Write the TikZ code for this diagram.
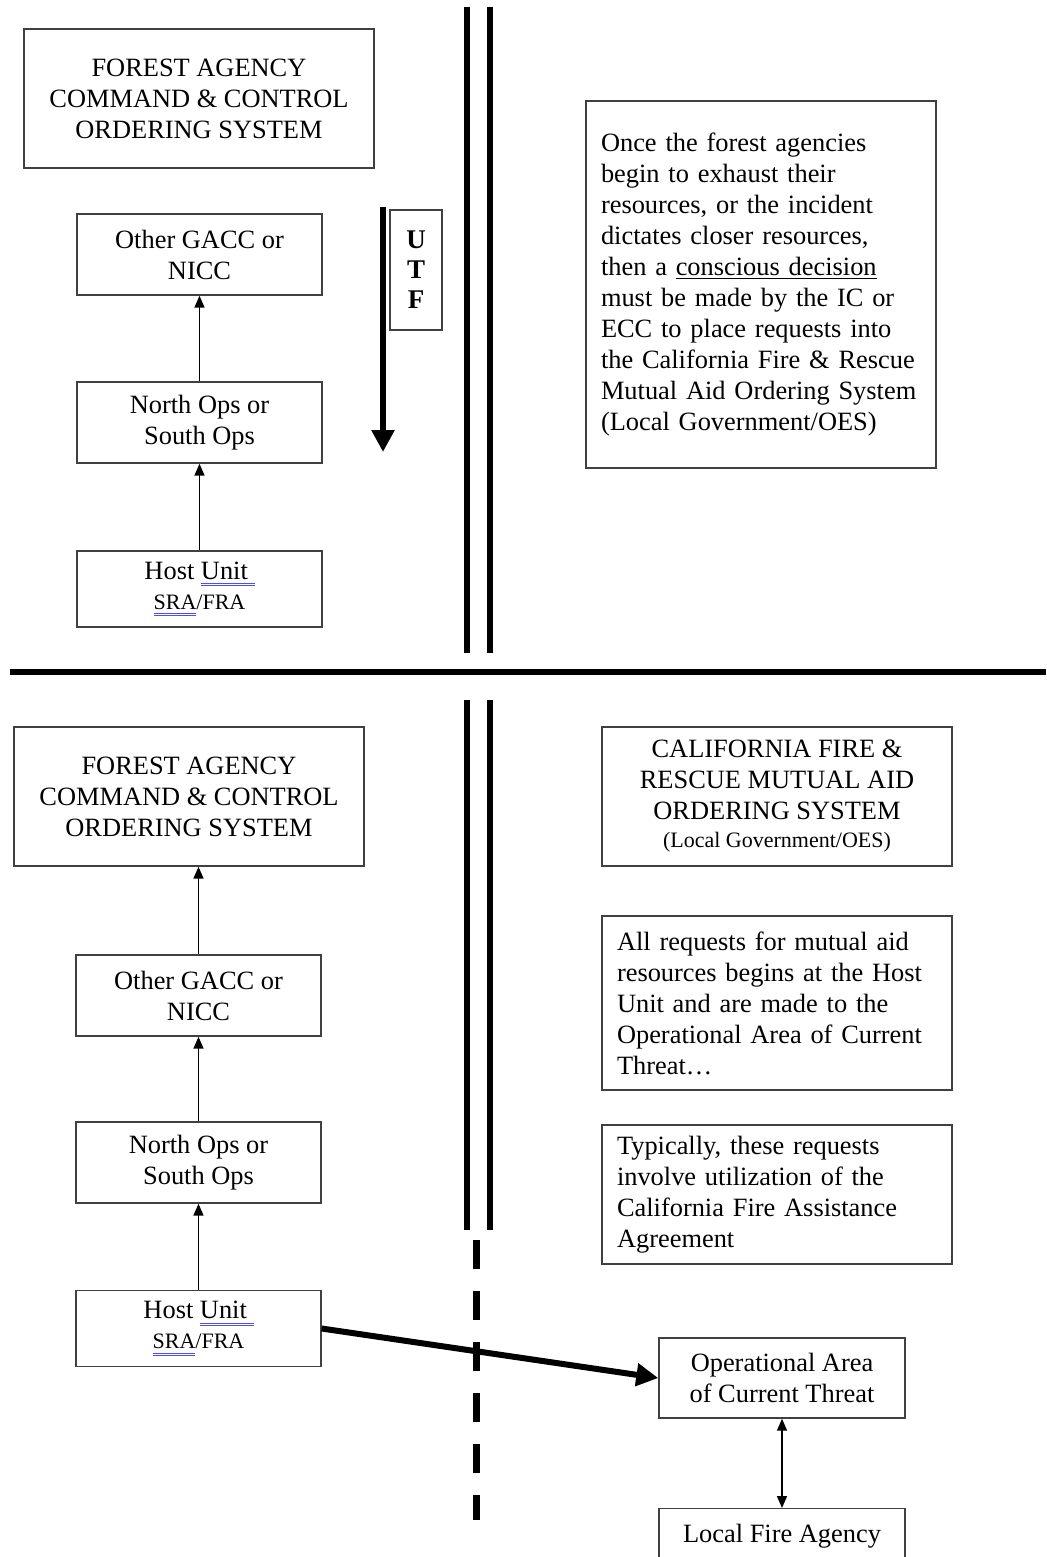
\documentclass[tikz,border=0pt]{standalone}
\usepackage{fontspec}
\setmainfont{Liberation Serif}
\usetikzlibrary{arrows.meta,positioning}

\newsavebox\markbox
\newcommand{\spellmark}[1]{\sbox\markbox{#1}%
  \rlap{\color{blue!70!white}\rule[-2.4pt]{\wd\markbox}{0.45pt}}%
  \rlap{\color{blue!70!white}\rule[-3.5pt]{\wd\markbox}{0.45pt}}%
  \usebox\markbox}

\begin{document}
\begin{tikzpicture}[x=0.5pt, y=-0.5pt,
  box/.style={draw=black!75, line width=0.7pt, align=center, inner sep=0pt,
    font=\fontsize{13.2}{15.5}\selectfont},
  notebox/.style={box, align=left, text width=160pt},
  link/.style={line width=0.8pt, -{Triangle[width=5pt,length=6pt]}},
  thick arrow/.style={line width=3pt, -{Triangle[width=11pt,length=11pt]}},
  divider/.style={line width=3pt}]

% Sizes
\def\bigw{175pt}
\def\bigh{69.5pt}
\def\smallw{122.5pt}
\def\smallh{40.5pt}

\useasboundingbox (0,0) rectangle (1046,1557);
\clip (0,0) rectangle (1046,1557);

% Dividers
\draw[divider] (10,672) -- (1046,672);
\foreach \x in {467,490} {
  \draw[divider] (\x,7) -- (\x,653);
  \draw[divider] (\x,700) -- (\x,1230);
}
\draw[divider, line width=3.5pt, dash pattern=on 14.5pt off 11pt] (476,1240) -- (476,1520);

% Forest agency ordering (top half)
\node[box, minimum width=\bigw, minimum height=\bigh] (forest1) at (199,98.5)
  {FOREST AGENCY\\COMMAND \& CONTROL\\ORDERING SYSTEM};
\node[box, minimum width=\smallw, minimum height=\smallh] (gacc1) at (199.5,254.5)
  {Other GACC or\\NICC};
\node[box, minimum width=\smallw, minimum height=\smallh] (ops1) at (199.5,422.5)
  {North Ops or\\South Ops};
\node[box, minimum width=\smallw, minimum height=38pt] (host1) at (199.5,589)
  {Host \spellmark{Unit }\\[-0.5pt]{\fontsize{11}{12}\selectfont\spellmark{SRA}/FRA}};
\draw[link] (host1.north) -- (ops1.south);
\draw[link] (ops1.north) -- (gacc1.south);

% UTF
\coordinate (utf start) at (383,207);
\coordinate (utf end) at (383,452);
\draw[thick arrow] (utf start) -- (utf end);
\node[box, font=\fontsize{13.5}{15}\selectfont\bfseries, minimum width=26pt, minimum height=60pt]
  (utf) at (416,270) {U\\T\\F};

\node[notebox, minimum width=\bigw, minimum height=183.5pt] (note1) at (761,284.5)
  {Once the forest agencies\\begin to exhaust their\\resources, or the incident\\dictates closer resources,\\then a \underline{conscious decision}\\must be made by the IC or\\ECC to place requests into\\the California Fire \& Rescue\\Mutual Aid Ordering System\\(Local Government/OES)};

% Forest agency ordering (bottom half)
\node[box, minimum width=\bigw, minimum height=\bigh] (forest2) at (189,796.5)
  {FOREST AGENCY\\COMMAND \& CONTROL\\ORDERING SYSTEM};
\node[box, minimum width=\smallw, minimum height=\smallh] (gacc2) at (198.5,995.5)
  {Other GACC or\\NICC};
\node[box, minimum width=\smallw, minimum height=\smallh] (ops2) at (198.5,1162.5)
  {North Ops or\\South Ops};
\node[box, minimum width=\smallw, minimum height=38pt] (host2) at (198.5,1328.5)
  {Host \spellmark{Unit }\\[-0.5pt]{\fontsize{11}{12}\selectfont\spellmark{SRA}/FRA}};
\draw[link] (host2.north) -- (ops2.south);
\draw[link] (ops2.north) -- (gacc2.south);
\draw[link] (gacc2.north) -- (forest2.south -| gacc2.north);

% Mutual aid side
\node[box, minimum width=\bigw, minimum height=\bigh] (calfire) at (777,796.5)
  {CALIFORNIA FIRE \&\\RESCUE MUTUAL AID\\ORDERING SYSTEM\\[-1.5pt]{\fontsize{11}{12}\selectfont (Local Government/OES)}};
\node[notebox, minimum width=\bigw, minimum height=87pt] (requests) at (777,1003)
  {All requests for mutual aid\\resources begins at the Host\\Unit and are made to the\\Operational Area of Current\\Threat\ldots};
\node[notebox, minimum width=\bigw, minimum height=\bigh] (typically) at (777,1194.5)
  {Typically, these requests\\involve utilization of the\\California Fire Assistance\\Agreement};
\node[box, minimum width=123pt, minimum height=40pt] (opa) at (782,1378)
  {Operational Area\\of Current Threat};
\node[box, minimum width=123pt, minimum height=27pt, anchor=north] (localfire) at (782,1508)
  {Local Fire Agency};

\draw[thick arrow] (host2.east) -- (opa.west);
\draw[line width=0.8pt, {Triangle[width=5pt,length=6pt]}-{Triangle[width=5pt,length=6pt]}]
  (opa.south) -- (localfire.north);

\end{tikzpicture}
\end{document}
